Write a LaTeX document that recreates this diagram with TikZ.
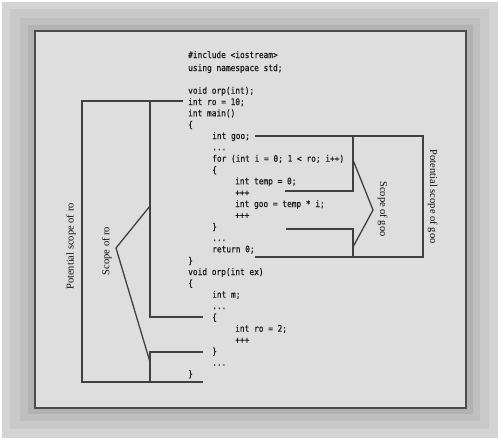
\documentclass[tikz,border=0pt]{standalone}
\usepackage{fontspec}
\setmainfont{Liberation Serif}
\newfontfamily\codefont[FakeStretch=0.87,FakeBold=0.6]{DejaVu Sans Mono}
\begin{document}
\begin{tikzpicture}[x=1pt,y=-1pt,
  codeline/.style={anchor=base west,inner sep=0pt,font=\codefont\fontsize{9}{10}\selectfont,text=black!90},
  scopelabel/.style={inner sep=0pt,font=\fontsize{10.5}{12}\selectfont,text=black!95},
  scopeline/.style={draw=black!75,line width=1.3pt,line join=miter}]
\useasboundingbox (0,0) rectangle (500,440);
% frame
\fill[white] (0,0) rectangle (500,440);
\fill[black!17] (2,2) rectangle (498,438);
\fill[black!21] (10,9) rectangle (489,429);
\fill[black!25] (20,18) rectangle (480,421);
\fill[black!30] (28,25) rectangle (473,414);
\fill[black!13,draw=black!70,line width=1.5pt] (35,31) rectangle (466,408);
% code
\node[codeline] (l0) at (188,58) {\#include <iostream>};
\node[codeline] (l1) at (188,71) {using namespace std;};
\node[codeline] (l3) at (188,93.7) {void orp(int);};
\node[codeline] (l4) at (188,105) {int ro = 10;};
\node[codeline] (l5) at (188,116.3) {int main()};
\node[codeline] (l6) at (188,127.7) {\{};
\node[codeline] (l7) at (212,139) {int goo;};
\node[codeline] (l8) at (212,150.3) {...};
\node[codeline] (l9) at (212,161.7) {for (int i = 0; 1 < ro; i++)};
\node[codeline] (l10) at (212,173) {\{};
\node[codeline] (l11) at (235,184.3) {int temp = 0;};
\node[codeline] (l12) at (235,195.7) {+++};
\node[codeline] (l13) at (235,207) {int goo = temp * i;};
\node[codeline] (l14) at (235,218.3) {+++};
\node[codeline] (l15) at (212,229.7) {\}};
\node[codeline] (l16) at (212,241) {...};
\node[codeline] (l17) at (212,252.3) {return 0;};
\node[codeline] (l18) at (188,263.7) {\}};
\node[codeline] (l19) at (188,275) {void orp(int ex)};
\node[codeline] (l20) at (188,286.3) {\{};
\node[codeline] (l21) at (212,297.7) {int m;};
\node[codeline] (l22) at (212,309) {...};
\node[codeline] (l23) at (212,320.3) {\{};
\node[codeline] (l24) at (235,331.7) {int ro = 2;};
\node[codeline] (l25) at (235,343) {+++};
\node[codeline] (l26) at (212,354.3) {\}};
\node[codeline] (l27) at (212,365.7) {...};
\node[codeline] (l28) at (188,377) {\}};
% labels
\node[scopelabel,rotate=90] (pro) at (71,246.5) {Potential scope of ro};
\node[scopelabel,rotate=90] (sro) at (106.7,251) {Scope of ro};
\node[scopelabel,rotate=-90] (sgoo) at (382.7,209) {Scope of goo};
\node[scopelabel,rotate=-90] (pgoo) at (432.7,196.7) {Potential scope of goo};
% coordinates of ro brackets
\coordinate (roA) at (183,101);
\coordinate (roB) at (82,101);
\coordinate (roC) at (82,382);
\coordinate (roD) at (203,382);
\coordinate (riA) at (150,101);
\coordinate (riB) at (150,317);
\coordinate (riC) at (203,317);
\coordinate (riD) at (203,352);
\coordinate (riE) at (150,352);
\coordinate (riF) at (150,382);
\coordinate (rtU) at (150,206);
\coordinate (rtT) at (116,248);
\coordinate (rtL) at (150,362);
% coordinates of goo brackets
\coordinate (gA) at (255,136);
\coordinate (gB) at (423,136);
\coordinate (gC) at (423,257);
\coordinate (gD) at (255,257);
\coordinate (giA) at (353,136);
\coordinate (giB) at (353,191);
\coordinate (giC) at (285,191);
\coordinate (giD) at (286,229);
\coordinate (giE) at (353,229);
\coordinate (giF) at (353,257);
\coordinate (gtU) at (353,160);
\coordinate (gtT) at (373,210);
\coordinate (gtL) at (353,247);
% ro lines
\draw[scopeline] (roA) -- (roB) -- (roC) -- (roD);
\draw[scopeline] (riA) -- (riB) -- (riC);
\draw[scopeline] (riD) -- (riE) -- (riF);
\draw[scopeline] (rtU) -- (rtT) -- (rtL);
% goo lines
\draw[scopeline] (gA) -- (gB) -- (gC) -- (gD);
\draw[scopeline] (giA) -- (giB) -- (giC);
\draw[scopeline] (giD) -- (giE) -- (giF);
\draw[scopeline] (gtU) -- (gtT) -- (gtL);
\end{tikzpicture}
\end{document}
